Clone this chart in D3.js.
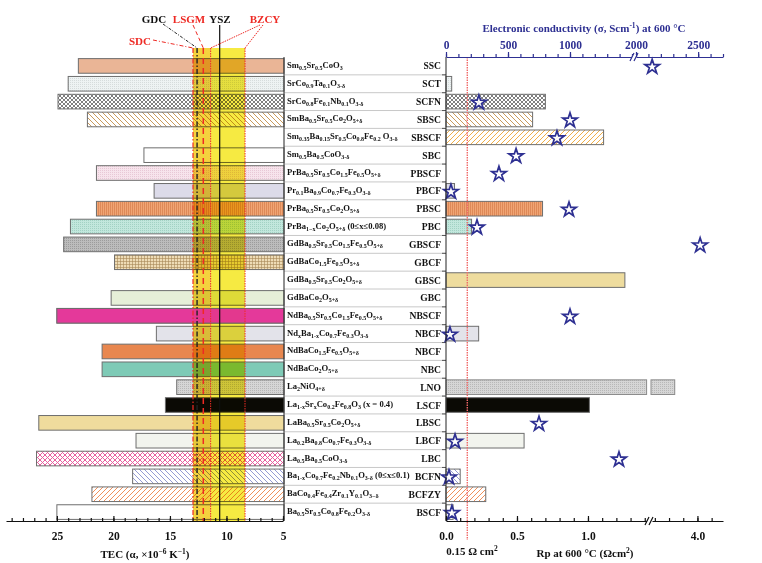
<!DOCTYPE html>
<html>
<head>
<meta charset="utf-8">
<script src="https://cdn.jsdelivr.net/npm/d3@7"></script>
<style>
	body { margin: 0; background: #fff; }
	svg { font-family: "Liberation Serif", "Times New Roman", serif; font-weight: bold; }
	.band { mix-blend-mode: multiply; }
</style>
</head>
<body>
<svg id="chart" width="762" height="563"></svg>
<script>

const formulas = [
	'Sm_{0.5}Sr_{0.5}CoO_{3}',
	'SrCo_{0.9}Ta_{0.1}O_{3-δ}',
	'SrCo_{0.8}Fe_{0.1}Nb_{0.1}O_{3-δ}',
	'SmBa_{0.5}Sr_{0.5}Co_{2}O_{5+δ}',
	'Sm_{0.35}Ba_{0.15}Sr_{0.5}Co_{0.8}Fe_{0.2} O_{3-δ}',
	'Sm_{0.5}Ba_{0.5}CoO_{3-δ}',
	'PrBa_{0.5}Sr_{0.5}Co_{1.5}Fe_{0.5}O_{5+δ}',
	'Pr_{0.1}Ba_{0.9}Co_{0.7}Fe_{0.3}O_{3-δ}',
	'PrBa_{0.5}Sr_{0.5}Co_{2}O_{5+δ}',
	'PrBa_{1−x}Co_{2}O_{5+δ} (0≤x≤0.08)',
	'GdBa_{0.5}Sr_{0.5}Co_{1.5}Fe_{0.5}O_{5+δ}',
	'GdBaCo_{1.5}Fe_{0.5}O_{5+δ}',
	'GdBa_{0.5}Sr_{0.5}Co_{2}O_{5+δ}',
	'GdBaCo_{2}O_{5+δ}',
	'NdBa_{0.5}Sr_{0.5}Co_{1.5}Fe_{0.5}O_{5+δ}',
	'Nd_{x}Ba_{1-x}Co_{0.7}Fe_{0.3}O_{3-δ}',
	'NdBaCo_{1.5}Fe_{0.5}O_{5+δ}',
	'NdBaCo_{2}O_{5+δ}',
	'La_{2}NiO_{4+δ}',
	'La_{1-x}Sr_{x}Co_{0.2}Fe_{0.8}O_{3} (x = 0.4)',
	'LaBa_{0.5}Sr_{0.5}Co_{2}O_{5+δ}',
	'La_{0.2}Ba_{0.8}Co_{0.7}Fe_{0.3}O_{3-δ}',
	'La_{0.5}Ba_{0.5}CoO_{3-δ}',
	'Ba_{1-x}Co_{0.7}Fe_{0.2}Nb_{0.1}O_{3-δ} (0≤x≤0.1)',
	'BaCo_{0.4}Fe_{0.4}Zr_{0.1}Y_{0.1}O_{3−δ}',
	'Ba_{0.5}Sr_{0.5}Co_{0.8}Fe_{0.2}O_{3-δ}'
]

const abbrevs = ['SSC', 'SCT', 'SCFN', 'SBSC', 'SBSCF', 'SBC', 'PBSCF', 'PBCF', 'PBSC', 'PBC',
	'GBSCF', 'GBCF', 'GBSC', 'GBC', 'NBSCF', 'NBCF', 'NBCF', 'NBC', 'LNO', 'LSCF',
	'LBSC', 'LBCF', 'LBC', 'BCFN', 'BCFZY', 'BSCF']

// TEC (x10^-6 K^-1)
const tec = [23.1, 24.0, 24.9, 22.3, null, 17.3, 21.5, 16.4, 21.5, 23.8,
	24.4, 19.9, null, 20.2, 25.0, 16.2, 21.0, 21.0, 14.4, 15.4,
	26.6, 18.0, 26.8, 18.3, 21.9, 25.0]

// Rp at 600 C (ohm cm2)
const rp = [null, 0.04, 0.70, 0.61, 1.11, null, null, 0.06, 0.68, 0.18,
	null, null, 1.26, null, null, 0.23, null, null, 3.84, 1.01,
	null, 0.55, null, 0.10, 0.28, 0.05]

// electronic conductivity at 600 C (S/cm)
const sigma = [2130, null, 265, 1000, 895, 565, 427, 40, 992, 250,
	2516, null, null, null, 1000, 32, null, null, null, null,
	750, 73, 1395, 24, null, 48]

// electrolyte TEC references
const electrolytes = [
	{ name: 'SDC', tec: 12.96 },
	{ name: 'GDC', tec: 12.6 },
	{ name: 'LSGM', tec: 12.05 },
	{ name: 'YSZ', tec: 10.6 },
	{ name: 'BZCY', tec: 11.4 },
	{ name: 'BZCY', tec: 8.36 }
]

const tecTicks = [25, 20, 15, 10, 5]
const rpTicksLo = [0, 0.5, 1.0]
const rpTicksHi = [4.0]
const sigTicksLo = [0, 500, 1000]
const sigTicksHi = [2000, 2500]

const blue = '#2e3092'
const red = '#ee2a24'

const fills = ['#eab596', 'url(#dotLight)', 'url(#cross)', 'url(#hatchTan)', 'url(#hatchGold)', '#fff',
	'url(#dotPink)', '#dcdbe9', 'url(#vlines)', 'url(#dotMint)', 'url(#dotGray)', 'url(#grid)',
	'#eedc9e', '#e6efd8', '#e4399a', '#e3e3ea', '#e8874f', '#7ecab6', 'url(#dotLno)', '#0b0a05',
	'#efdc9d', '#f2f4ee', 'url(#pinkCross)', 'url(#hatchBlue)', 'url(#hatchOrange)', '#fff']

// rows whose bar sits over the electrolyte band
const overBand = [14]

const svg = d3.select('#chart')
const yTop = 57
const yBottom = 521

const y = d3.scaleBand()
	.domain(d3.range(formulas.length))
	.range([yTop, yBottom])
	.paddingInner(0.18)
	.paddingOuter(0.09)

const tecX = d3.scaleLinear().domain([29.5, 5]).range([6, 283])
const rpLo = d3.scaleLinear().domain([0, 1.42]).range([446, 647.6])
const rpHi = d3.scaleLinear().domain([3.68, 4.18]).range([652, 723])
const sigLo = d3.scaleLinear().domain([0, 1500]).range([446, 632])
const sigHi = d3.scaleLinear().domain([2000, 2700]).range([636, 723])

const sigX = v => v <= 1500 ? sigLo(v) : sigHi(v)

// patterns
const defs = svg.append('defs')

const pattern = (id, size, bg, draw) => {
	const p = defs.append('pattern')
		.attr('id', id)
		.attr('patternUnits', 'userSpaceOnUse')
		.attr('width', size)
		.attr('height', size)
	p.append('rect').attr('width', size).attr('height', size).attr('fill', bg)
	draw(p)
}

const lines = (d, color, w) => p => p.append('path').attr('d', d).attr('stroke', color).attr('stroke-width', w).attr('fill', 'none')
const dots = color => p => p.append('rect').attr('x', 0).attr('y', 0).attr('width', 1).attr('height', 1).attr('fill', color)

pattern('cross', 4, '#fff', lines('M0,0 L4,4 M4,0 L0,4', '#707070', 0.9))
pattern('pinkCross', 5, '#fff', lines('M0,0 L5,5 M5,0 L0,5', '#e8609f', 1))
pattern('hatchTan', 5, '#fff', lines('M-1,-1 l7,7 M-1,4 l2,2 M4,-1 l2,2', '#c99a5c', 1))
pattern('hatchBlue', 5, '#fff', lines('M-1,-1 l7,7 M-1,4 l2,2 M4,-1 l2,2', '#959cd4', 1))
pattern('hatchGold', 5, '#fff', lines('M-1,1 l2,-2 M0,5 l5,-5 M4,6 l2,-2', '#f0ae48', 1))
pattern('hatchOrange', 5, '#fff', lines('M-1,1 l2,-2 M0,5 l5,-5 M4,6 l2,-2', '#f0905a', 1))
pattern('vlines', 2, '#f0a574', lines('M0.5,0 L0.5,2', '#d77c4c', 0.7))
pattern('grid', 3, '#eedcb6', lines('M0,0.5 L3,0.5 M0.5,0 L0.5,3', '#a88858', 0.6))
pattern('dotLight', 2, '#eef3f3', dots('#d6dcdc'))
pattern('dotPink', 2, '#f7e4ec', dots('#e8c8d6'))
pattern('dotMint', 2, '#c2e7dd', dots('#a2d2c4'))
pattern('dotGray', 2, '#bcbcbc', dots('#9c9c9c'))
pattern('dotLno', 2, '#d6d6d6', dots('#b8b8b8'))

// left bars (TEC)
const tecBars = (g, rows) => g.selectAll('rect')
	.data(rows)
	.join('rect')
	.attr('x', i => tecX(tec[i]))
	.attr('y', i => y(i))
	.attr('width', i => tecX(5) - tecX(tec[i]) + 1)
	.attr('height', y.bandwidth())
	.attr('fill', i => fills[i])
	.attr('stroke', '#6e6e6e')
	.attr('stroke-width', 1)

tecBars(svg.append('g'), d3.range(tec.length).filter(i => tec[i] !== null))

// electrolyte band
const band = svg.append('g')
band.append('rect')
	.attr('class', 'band')
	.attr('x', tecX(12.96))
	.attr('y', 48)
	.attr('width', tecX(11.4) - tecX(12.96))
	.attr('height', yBottom - 48)
	.attr('fill', '#f4d23e')
band.append('rect')
	.attr('class', 'band')
	.attr('x', tecX(11.4))
	.attr('y', 48)
	.attr('width', tecX(8.36) - tecX(11.4))
	.attr('height', yBottom - 48)
	.attr('fill', '#f6ea42')

tecBars(svg.append('g').attr('opacity', 0.9), overBand)

const vline = (v, color, dash, w, y0) => svg.append('line')
	.attr('x1', tecX(v)).attr('x2', tecX(v))
	.attr('y1', y0).attr('y2', yBottom)
	.attr('stroke', color)
	.attr('stroke-width', w)
	.attr('stroke-dasharray', dash)

vline(electrolytes[0].tec, red, '5,2,1.5,2', 1.2, 48)
vline(electrolytes[1].tec, '#222', '5,2,1.5,2', 1.4, 48)
vline(electrolytes[2].tec, red, '6,4', 1.5, 48)
vline(electrolytes[3].tec, '#111', null, 1.2, 25)
vline(electrolytes[4].tec, red, '1.5,1', 1, 48)
vline(electrolytes[5].tec, red, '1.5,1', 1, 48)

// leaders
const leader = (x1, y1, x2, y2, color, dash) => svg.append('line')
	.attr('x1', x1).attr('y1', y1).attr('x2', x2).attr('y2', y2)
	.attr('stroke', color).attr('stroke-width', 1).attr('stroke-dasharray', dash)

leader(163, 24, tecX(12.6), 48, '#222', '3,1.5,1,1.5')
leader(153, 40, tecX(12.96), 48, red, '4,2,1,2')
leader(193, 25, tecX(12.05), 48, red, '4,3')
leader(260, 25, tecX(11.4), 48, red, '1.5,1')
leader(263, 25, tecX(8.36), 48, red, '1.5,1')

const topLabel = (t, x, yy, color) => svg.append('text')
	.attr('x', x).attr('y', yy)
	.attr('text-anchor', 'middle')
	.attr('font-size', 11)
	.attr('fill', color)
	.text(t)

topLabel('GDC', 154, 23, '#111')
topLabel('LSGM', 189, 23, red)
topLabel('YSZ', 220, 23, '#111')
topLabel('BZCY', 265, 23, red)
topLabel('SDC', 140, 45, red)

// label column
const rowEdge = i => yTop + i * (yBottom - yTop) / formulas.length

svg.append('g')
	.selectAll('line')
	.data(d3.range(1, formulas.length))
	.join('line')
	.attr('x1', 284).attr('x2', 446)
	.attr('y1', rowEdge)
	.attr('y2', rowEdge)
	.attr('stroke', '#c8c8c8')
	.attr('stroke-width', 1)

svg.append('g')
	.selectAll('line')
	.data(d3.range(1, formulas.length))
	.join('line')
	.attr('x1', 442).attr('x2', 446)
	.attr('y1', rowEdge)
	.attr('y2', rowEdge)
	.attr('stroke', '#555')
	.attr('stroke-width', 1)

const formulaText = svg.append('g')
	.selectAll('text')
	.data(formulas)
	.join('text')
	.attr('x', 287)
	.attr('y', (d, i) => y(i) + y.bandwidth() / 2 + 2)
	.attr('font-size', 8.6)
	.attr('fill', '#111')

formulaText.each(function(d) {
	const el = d3.select(this)
	const parts = d.split(/(_\{[^}]*\})/).filter(s => s.length)
	let sub = false
	parts.forEach(p => {
		if (p.startsWith('_{')) {
			el.append('tspan').attr('font-size', 6).attr('dy', sub ? 0 : 2).text(p.slice(2, -1))
			sub = true
		} else {
			el.append('tspan').attr('dy', sub ? -2 : 0).text(p)
			sub = false
		}
	})
})

svg.append('g')
	.selectAll('text')
	.data(abbrevs)
	.join('text')
	.attr('x', 441)
	.attr('y', (d, i) => y(i) + y.bandwidth() / 2 + 3.5)
	.attr('text-anchor', 'end')
	.attr('font-size', 9.6)
	.attr('fill', '#111')
	.text(d => d)

// right bars (Rp)
const rpRows = d3.range(rp.length).filter(i => rp[i] !== null)
const rightBars = svg.append('g')

rpRows.forEach(i => {
	const v = rp[i]
	if (v <= 1.42) {
		rightBars.append('rect')
			.attr('x', rpLo(0)).attr('y', y(i))
			.attr('width', rpLo(v) - rpLo(0)).attr('height', y.bandwidth())
			.attr('fill', fills[i]).attr('stroke', '#6e6e6e')
	} else {
		rightBars.append('rect')
			.attr('x', rpLo(0)).attr('y', y(i))
			.attr('width', rpLo(1.42) - rpLo(0) - 1).attr('height', y.bandwidth())
			.attr('fill', fills[i]).attr('stroke', '#8a8a8a')
		rightBars.append('rect')
			.attr('x', rpHi(3.68) - 1).attr('y', y(i))
			.attr('width', rpHi(v) - rpHi(3.68) + 1).attr('height', y.bandwidth())
			.attr('fill', fills[i]).attr('stroke', '#8a8a8a')
	}
})

// 0.15 ohm cm2 line
svg.append('line')
	.attr('x1', rpLo(0.15)).attr('x2', rpLo(0.15))
	.attr('y1', yTop).attr('y2', 540)
	.attr('stroke', '#f06a6a')
	.attr('stroke-width', 1.4)
	.attr('stroke-dasharray', '1.5,1')

// stars
svg.append('g')
	.selectAll('path')
	.data(d3.range(sigma.length).filter(i => sigma[i] !== null))
	.join('path')
	.attr('d', d3.symbol(d3.symbolStar, 66))
	.attr('transform', i => 'translate(' + sigX(sigma[i]) + ',' + (y(i) + y.bandwidth() / 2 + 1) + ')')
	.attr('fill', '#fff')
	.attr('fill-opacity', 0.85)
	.attr('stroke', blue)
	.attr('stroke-width', 1.7)

// frame lines
svg.append('line').attr('x1', 284).attr('x2', 284).attr('y1', yTop).attr('y2', yBottom).attr('stroke', '#222')
svg.append('line').attr('x1', 446).attr('x2', 446).attr('y1', yTop).attr('y2', yBottom).attr('stroke', '#222')

// axes
const drawAxis = (scale, gen, yy, minor, major, fmt, color, size) => {
	const g = svg.append('g').attr('transform', 'translate(0,' + yy + ')')
	g.call(gen(scale).tickValues(minor).tickSize(size * 0.6).tickSizeOuter(0).tickFormat(''))
	const g2 = svg.append('g').attr('transform', 'translate(0,' + yy + ')')
	g2.call(gen(scale).tickValues(major).tickSize(size).tickSizeOuter(0).tickFormat(fmt))
	g2.select('.domain').remove()
	;[g, g2].forEach(a => {
		a.attr('font-family', null).attr('font-size', null)
		a.selectAll('path, line').attr('stroke', color).attr('stroke-width', 1.2)
		a.selectAll('text').attr('fill', color).attr('font-size', 11.5)
	})
	return g2
}

// bottom axes, ticks point up
const tecAxis = drawAxis(tecX, d3.axisBottom, yBottom, d3.range(5, 30), tecTicks, d3.format('d'), '#111', -5)
tecAxis.selectAll('text').attr('y', 11)

const rpA = drawAxis(rpLo, d3.axisBottom, yBottom, d3.range(0, 1.41, 0.1), rpTicksLo, d3.format('.1f'), '#111', -5)
rpA.selectAll('text').attr('y', 11)
const rpB = drawAxis(rpHi, d3.axisBottom, yBottom, d3.range(3.7, 4.19, 0.1), rpTicksHi, d3.format('.1f'), '#111', -5)
rpB.selectAll('text').attr('y', 11)

const sA = drawAxis(sigLo, d3.axisTop, yTop, d3.range(0, 1501, 100), sigTicksLo, d3.format('d'), blue, 5)
sA.selectAll('text').attr('y', -8)
const sB = drawAxis(sigHi, d3.axisTop, yTop, d3.range(2000, 2701, 100), sigTicksHi, d3.format('d'), blue, 5)
sB.selectAll('text').attr('y', -8)

// axis breaks
const brk = (x, yy, color) => {
	svg.append('rect').attr('x', x - 2).attr('y', yy - 2).attr('width', 4).attr('height', 4).attr('fill', '#fff')
	svg.append('path')
		.attr('d', 'M' + (x - 4) + ',' + (yy + 4) + ' l4,-8 M' + (x) + ',' + (yy + 4) + ' l4,-8')
		.attr('stroke', color).attr('stroke-width', 1.2)
}
brk(634, yTop, blue)
brk(649, yBottom, '#111')

// titles
svg.append('text')
	.attr('x', 584).attr('y', 32)
	.attr('text-anchor', 'middle')
	.attr('font-size', 11)
	.attr('fill', blue)
	.html('Electronic conductivity (σ, Scm<tspan dy="-4" font-size="7.5">-1</tspan><tspan dy="4">) at 600 °C</tspan>')

svg.append('text')
	.attr('x', 145).attr('y', 558)
	.attr('text-anchor', 'middle')
	.attr('font-size', 11)
	.attr('fill', '#111')
	.html('TEC (α, ×10<tspan dy="-4" font-size="7.5">−6</tspan><tspan dy="4"> K</tspan><tspan dy="-4" font-size="7.5">−1</tspan><tspan dy="4">)</tspan>')

svg.append('text')
	.attr('x', 585).attr('y', 557)
	.attr('text-anchor', 'middle')
	.attr('font-size', 11)
	.attr('fill', '#111')
	.html('Rp at 600 °C (Ωcm<tspan dy="-4" font-size="7.5">2</tspan><tspan dy="4">)</tspan>')

svg.append('text')
	.attr('x', 472).attr('y', 555)
	.attr('text-anchor', 'middle')
	.attr('font-size', 11)
	.attr('fill', '#111')
	.html('0.15 Ω cm<tspan dy="-4" font-size="7.5">2</tspan>')

</script>
</body>
</html>
